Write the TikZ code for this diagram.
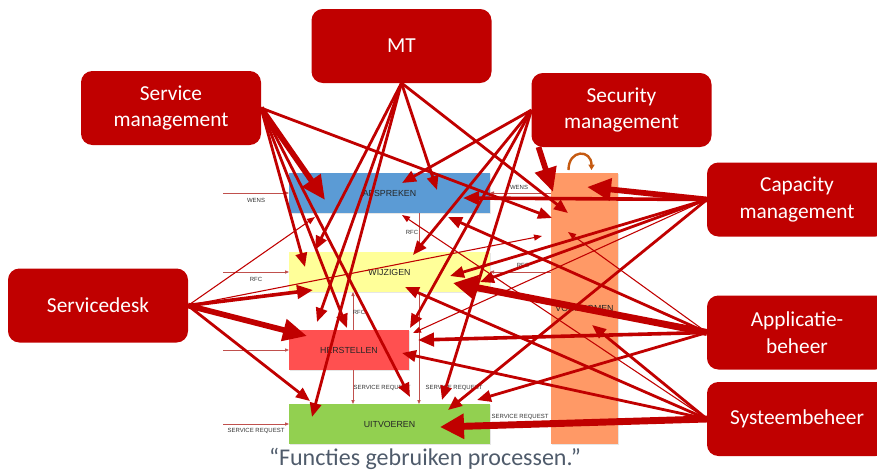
\documentclass[tikz,border=0pt]{standalone}
\usepackage{fontspec}
\setmainfont{Carlito}
\newfontfamily\arial{Liberation Sans}
\usetikzlibrary{arrows.meta,shadows}
\definecolor{fred}{HTML}{C00000}
\definecolor{lred}{HTML}{C0504D}
\definecolor{pblue}{HTML}{5B9BD5}
\definecolor{pyellow}{HTML}{FFFF99}
\definecolor{pred}{HTML}{FF5050}
\definecolor{pgreen}{HTML}{92D050}
\definecolor{porange}{HTML}{FF9966}
\definecolor{loopbrown}{HTML}{C55A11}
\definecolor{captxt}{HTML}{4F5B6B}
\begin{document}
\begin{tikzpicture}[x=0.75pt,y=-0.75pt,
  func/.style={fill=fred, rounded corners=8.5pt, text=white, inner sep=0pt, outer sep=0pt,
    minimum width=135pt, minimum height=55.5pt, align=center, font=\fontsize{16}{20}\selectfont},
  proc/.style={inner sep=0pt, outer sep=0pt, text=black!85, font=\arial\fontsize{6.6}{7}\selectfont,
    drop shadow={shadow xshift=0.8pt, shadow yshift=-0.8pt, opacity=0.2}},
  lbl/.style={inner sep=0pt, text=black!80, font=\arial\fontsize{4.5}{5}\selectfont},
  flow/.style={draw=lred, line width=0.6pt, -{Triangle[length=3pt,width=2.4pt]}},
  uthin/.style={draw=fred, line width=0.8pt, -{Triangle[length=6pt,width=4.5pt]}},
  umed/.style={draw=fred, line width=2.1pt, -{Triangle[length=10.5pt,width=8.5pt]}},
  umedb/.style={draw=fred, line width=2.7pt, -{Triangle[length=12pt,width=10pt]}},
  uthick/.style={draw=fred, line width=4.3pt, -{Triangle[length=18pt,width=16pt]}},
  ubig/.style={draw=fred, line width=5.2pt, -{Triangle[length=18pt,width=18pt]}},
  loop/.style={draw=loopbrown, line width=1.8pt, -{Triangle[length=4pt,width=4.5pt]}}
]
\useasboundingbox (0,0) rectangle (877,472);

% processes
\node[proc, fill=pblue,   minimum width=150.75pt, minimum height=30pt] (afs) at (389.5,193) {AFSPREKEN};
\node[proc, fill=pyellow, minimum width=150.75pt, minimum height=30pt] (wij) at (389.5,272) {WIJZIGEN};
\node[proc, fill=pred,    minimum width=90pt,     minimum height=30pt] (her) at (349,350) {HERSTELLEN};
\node[proc, fill=pgreen,  minimum width=150.75pt, minimum height=30pt] (uit) at (389.5,424) {UITVOEREN};
\node[proc, fill=porange, minimum width=50.25pt,  minimum height=203.25pt] (voo) at (584.5,308.5) {VOORKOMEN};

% process flows with their labels
\coordinate (inA) at (223,193);
\coordinate (inW) at (223,272);
\coordinate (inH) at (223,350);
\coordinate (inU) at (223,424);
\draw[flow] (inA) -- (afs.west);
\draw[flow] (inW) -- (wij.west);
\draw[flow] (inH) -- (her.west);
\draw[flow] (inU) -- (uit.west);
\draw[flow] (voo.west |- afs.east) -- (afs.east);
\draw[flow] (voo.west |- wij.east) -- (wij.east);
\draw[flow] (voo.west |- uit.east) -- (uit.east);
\draw[flow] ([shift={(130,0)}]afs.south west) -- ([shift={(130,0)}]wij.north west);
\draw[flow] ([shift={(64,0)}]her.north west) -- ([shift={(64,0)}]wij.south west);
\draw[flow] ([shift={(64,0)}]her.south west) -- ([shift={(64,0)}]uit.north west);
\draw[flow] ([shift={(130,0)}]wij.south west) -- ([shift={(130,0)}]uit.north west);
\node[lbl] (l1) at (256,200) {WENS};
\node[lbl] (l2) at (519,187) {WENS};
\node[lbl] (l3) at (412,232) {RFC};
\node[lbl] (l4) at (256,279) {RFC};
\node[lbl] (l5) at (523,265) {RFC};
\node[lbl] (l6) at (359,312) {RFC};
\node[lbl] (l7) at (382,388) {SERVICE REQUEST};
\node[lbl] (l8) at (454,388) {SERVICE REQUEST};
\node[lbl] (l9) at (256,431) {SERVICE REQUEST};
\node[lbl] (l10) at (520,417) {SERVICE REQUEST};

% loop above VOORKOMEN
\draw[loop] ([shift={(-16,-3)}]voo.north) .. controls ([shift={(-16,-24)}]voo.north) and ([shift={(7,-24)}]voo.north) .. ([shift={(7,-3)}]voo.north);

% functions
\node[func] (mt)  at (401.5,46)  {MT};
\node[func] (sm)  at (171,108)   {Service\\management};
\node[func] (sec) at (621.5,110) {Security\\management};
\node[func] (sd)  at (98,305.5)  {Servicedesk};
\node[func] (cap) at (797,199.5) {Capacity\\management};
\node[func] (app) at (797,332.5) {Applicatie-\\beheer};
\node[func] (sys) at (797,419)   {Systeembeheer};

% Service management
\draw[uthick] (sm.east) -- ([shift={(36,27)}]afs.north west);
\draw[umed] (sm.east) -- ([shift={(1,45)}]voo.north west);
\draw[umed] (sm.east) -- ([shift={(16,15)}]wij.north west);
\draw[umed] (sm.east) -- ([shift={(58,-2)}]her.north west);
\draw[umed] (sm.east) -- ([shift={(121,-7)}]uit.north west);
% MT
\draw[umed] (mt.south) -- ([shift={(148,17)}]afs.north west);
\draw[umed] (mt.south) -- ([shift={(17,40)}]voo.north west);
\draw[umed] (mt.south) -- ([shift={(26,-2)}]wij.north west);
\draw[umed] (mt.south) -- ([shift={(28,-8)}]her.north west);
\draw[umed] (mt.south) -- ([shift={(23,13)}]uit.north west);
% Security management
\draw[umed] (sec.west) -- ([shift={(113,10)}]afs.north west);
\draw[umed] (sec.west) -- ([shift={(124,3)}]wij.north west);
\draw[umed] (sec.west) -- ([shift={(121,-2)}]her.north west);
\draw[umed] (sec.west) -- ([shift={(153,-4)}]uit.north west);
\draw[uthick] ([shift={(7,0)}]sec.south west) -- ([shift={(2,19)}]voo.north west);
% Servicedesk
\draw[uthin] (sd.east) -- ([shift={(26,44)}]afs.north west);
\draw[uthin] (sd.east) -- ([shift={(-9,63)}]voo.north west);
\draw[umedb] (sd.east) -- ([shift={(24,38)}]wij.north west);
\draw[uthick] (sd.east) -- ([shift={(18,6)}]her.north west);
\draw[umed] (sd.east) -- ([shift={(21,-3)}]uit.north west);
% Capacity management
\draw[uthick] (cap.west) -- ([shift={(36,14)}]voo.north west);
\draw[umedb] (cap.west) -- ([shift={(174,25)}]afs.north west);
\draw[umed] (cap.west) -- ([shift={(191,30)}]wij.north west);
\draw[umed] (cap.west) -- ([shift={(161,24)}]wij.north west);
\draw[uthin] (cap.west) -- ([shift={(124,3)}]her.north west);
\draw[umed] (cap.west) -- ([shift={(159,6)}]uit.north west);
% Applicatiebeheer
\draw[ubig] (app.west) -- ([shift={(164,31)}]wij.north west);
\draw[umedb] (app.west) -- ([shift={(129,10)}]her.north west);
\draw[umed] (app.west) -- ([shift={(159,44)}]afs.north west);
\draw[uthin] (app.west) -- ([shift={(17,59)}]voo.north west);
\draw[umed] (app.west) -- ([shift={(188,-4)}]uit.north west);
% Systeembeheer
\draw[ubig] (sys.west) -- ([shift={(151,23)}]uit.north west);
\draw[umed] (sys.west) -- ([shift={(113,23)}]her.north west);
\draw[umed] (sys.west) -- ([shift={(116,35)}]wij.north west);
\draw[uthin] (sys.west) -- ([shift={(113,42)}]afs.north west);
\draw[umed] (sys.west) -- ([shift={(41,152)}]voo.north west);

\node[text=captxt, inner sep=0pt, font=\fontsize{18}{20}\selectfont] (motto) at (425,459) {“Functies gebruiken processen.”};
\end{tikzpicture}
\end{document}
